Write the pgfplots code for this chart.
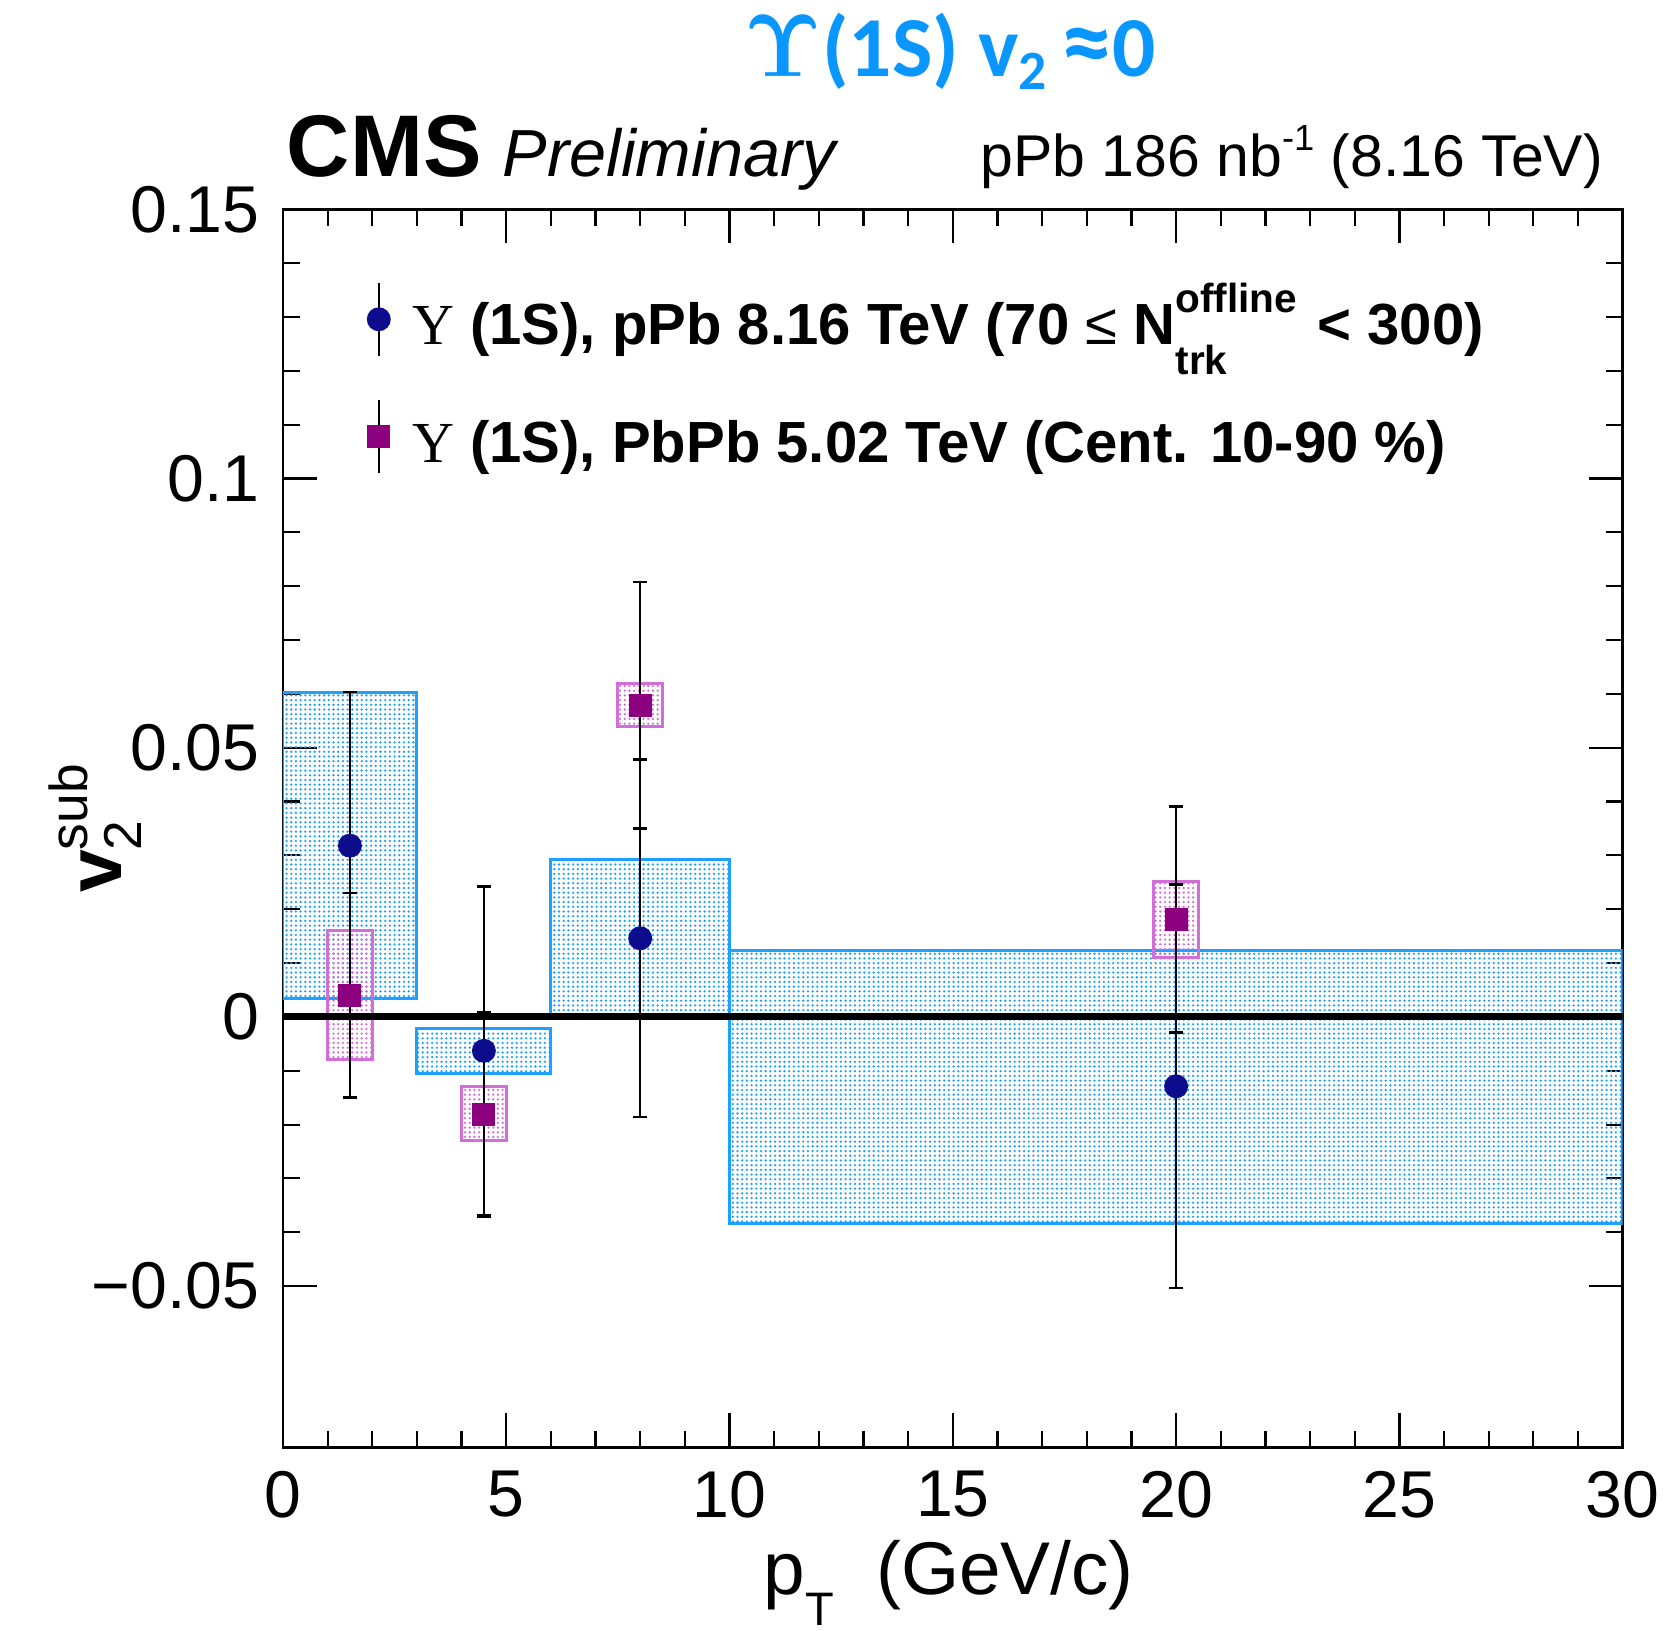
\documentclass[border=0pt]{standalone}
\usepackage[no-math]{fontspec}
\setmainfont{Liberation Sans}
\newfontfamily\serifG{Liberation Serif}
\newfontfamily\carl{Carlito}
\usepackage{pgfplots}
\pgfplotsset{compat=1.18}
\usetikzlibrary{patterns.meta}
\definecolor{ppbcol}{RGB}{12,12,140}
\definecolor{pbcol}{RGB}{140,0,128}
\definecolor{boxblue}{RGB}{30,160,255}
\definecolor{boxpink}{RGB}{210,110,215}
\definecolor{titleblue}{RGB}{10,150,255}

\pgfplotstableread{
x y err
1.5 0.0318 0.0285
4.5 -0.0063 0.0305
8 0.0146 0.0332
20 -0.0129 0.0375
}\ppbdata
\pgfplotstableread{
x y err
1.5 0.0040 0.0190
4.5 -0.0181 0.0190
8 0.0579 0.0229
20 0.0181 0.0210
}\pbpbdata

\begin{document}
\begin{tikzpicture}
\useasboundingbox (-66.25pt,-42.75pt) rectangle (325.75pt,339pt);
\begin{axis}[
  at={(0,0)}, anchor=south west,
  scale only axis, width=313.75pt, height=290pt,
  xmin=0, xmax=30, ymin=-0.08, ymax=0.15,
  xtick={0,5,10,15,20,25,30},
  xticklabels={0,5,10,15,20,25,30},
  ytick={-0.05,0,0.05,0.1,0.15},
  yticklabels={−0.05,0,0.05,0.1,0.15},
  scaled y ticks=false, scaled x ticks=false,
  minor x tick num=4, minor y tick num=4,
  tick align=inside,
  major tick length=8pt, minor tick length=4pt,
  every tick/.style={black, line width=0.5pt},
  axis line style={line width=0.6pt},
  ticklabel style={font=\fontsize{15.5}{18}\selectfont},
  xticklabel style={yshift=-2pt},
  yticklabel style={xshift=-2pt},
  every axis x label/.style={at={(rel axis cs:0.497,0)}, anchor=base, yshift=-34.5pt, font=\fontsize{17.5}{20}\selectfont},
  xlabel={p\raisebox{-7.2pt}{\fontsize{11}{12}\selectfont T}\hspace{5pt} (GeV/c)},
  every axis y label/.style={at={(rel axis cs:0,0.5)}, rotate=90, anchor=center, yshift=44pt},
  ylabel={{\fontsize{18}{20}\selectfont\bfseries v}\fontsize{12.5}{14}\selectfont\rlap{\raisebox{-4.5pt}{2}}\raisebox{8pt}{sub}},
  legend style={at={(rel axis cs:0.062,0.942)}, anchor=north west, draw=none, fill=none,
     row sep=10pt, column sep=5pt, inner sep=0pt,
     nodes={inner sep=0pt, anchor=base west, font=\fontsize{13.6}{16}\selectfont\bfseries}},
  legend cell align=left,
  clip=true,
]
% pPb systematic boxes
\addplot[forget plot, draw=boxblue, line width=0.7pt, pattern={Dots[distance=1.1pt, radius=0.3pt]}, pattern color=boxblue] coordinates {(0,0.0034) (3,0.0034) (3,0.0603) (0,0.0603)} -- cycle;
\addplot[forget plot, draw=boxblue, line width=0.7pt, pattern={Dots[distance=1.1pt, radius=0.3pt]}, pattern color=boxblue] coordinates {(3,-0.0105) (6,-0.0105) (6,-0.0022) (3,-0.0022)} -- cycle;
\addplot[forget plot, draw=boxblue, line width=0.7pt, pattern={Dots[distance=1.1pt, radius=0.3pt]}, pattern color=boxblue] coordinates {(6,0.0002) (10,0.0002) (10,0.0292) (6,0.0292)} -- cycle;
\addplot[forget plot, draw=boxblue, line width=0.7pt, pattern={Dots[distance=1.1pt, radius=0.3pt]}, pattern color=boxblue] coordinates {(10,-0.0383) (30,-0.0383) (30,0.0124) (10,0.0124)} -- cycle;
% PbPb systematic boxes
\addplot[forget plot, draw=boxpink, line width=0.7pt, pattern={Dots[distance=1.1pt, radius=0.3pt]}, pattern color=boxpink] coordinates {(1,-0.0079) (2,-0.0079) (2,0.0160) (1,0.0160)} -- cycle;
\addplot[forget plot, draw=boxpink, line width=0.7pt, pattern={Dots[distance=1.1pt, radius=0.3pt]}, pattern color=boxpink] coordinates {(4,-0.0229) (5,-0.0229) (5,-0.0130) (4,-0.0130)} -- cycle;
\addplot[forget plot, draw=boxpink, line width=0.7pt, pattern={Dots[distance=1.1pt, radius=0.3pt]}, pattern color=boxpink] coordinates {(7.5,0.0540) (8.5,0.0540) (8.5,0.0619) (7.5,0.0619)} -- cycle;
\addplot[forget plot, draw=boxpink, line width=0.7pt, pattern={Dots[distance=1.1pt, radius=0.3pt]}, pattern color=boxpink] coordinates {(19.5,0.0110) (20.5,0.0110) (20.5,0.0251) (19.5,0.0251)} -- cycle;
% zero line
\addplot[forget plot, black, line width=1.6pt] coordinates {(0,0) (30,0)};
% data
\addplot[only marks, mark=*, mark size=2.6pt, color=ppbcol,
  legend image code/.code={\draw[black,line width=0.5pt] (0pt,-2.5pt)--(0pt,14.5pt); \fill[ppbcol] (0pt,6pt) circle (2.6pt);},
  error bars/.cd, y dir=both, y explicit,
  error bar style={black, line width=0.55pt},
  error mark options={black, mark size=1.6pt, line width=0.55pt, rotate=90}]
  table[x=x, y=y, y error=err] {\ppbdata};
\addlegendentry{{\serifG\mdseries Υ} (1S), pPb 8.16 TeV (70 {\mdseries ≤} N\rlap{\raisebox{-7pt}{\fontsize{9.5}{10}\selectfont trk}}\raisebox{7.5pt}{\fontsize{9.5}{10}\selectfont offline} \kern1pt< 300)}
\addplot[only marks, mark=square*, mark size=2.5pt, color=pbcol,
  legend image code/.code={\draw[black,line width=0.5pt] (0pt,-2.5pt)--(0pt,14.5pt); \fill[pbcol] (-2.5pt,3.5pt) rectangle (2.5pt,8.5pt);},
  error bars/.cd, y dir=both, y explicit,
  error bar style={black, line width=0.55pt},
  error mark options={black, mark size=1.6pt, line width=0.55pt, rotate=90}]
  table[x=x, y=y, y error=err] {\pbpbdata};
\addlegendentry{{\serifG\mdseries Υ} (1S), PbPb 5.02 TeV (Cent. 10-90 \%)}
\end{axis}
% header texts
\node[anchor=base west, inner sep=0pt] at (0.75pt,297.75pt) {\fontsize{20.5}{24}\selectfont\bfseries CMS};
\node[anchor=base west, inner sep=0pt] at (51.25pt,297.75pt) {\fontsize{15.6}{20}\selectfont\itshape Preliminary};
\node[anchor=base east, inner sep=0pt] at (309.25pt,297.75pt) {\fontsize{13.8}{16}\selectfont pPb 186 nb\raisebox{6pt}{\fontsize{8.5}{10}\selectfont -1} (8.16 TeV)};
\node[anchor=base, inner sep=0pt, text=titleblue] at (156.25pt,321pt) {\fontsize{20}{24}\selectfont\carl\bfseries {\boldmath$\Upsilon$}(1S) v\raisebox{-3pt}{\fontsize{13}{14}\selectfont 2}\,{\fontsize{24}{24}\selectfont ≈}0};
\end{tikzpicture}
\end{document}
